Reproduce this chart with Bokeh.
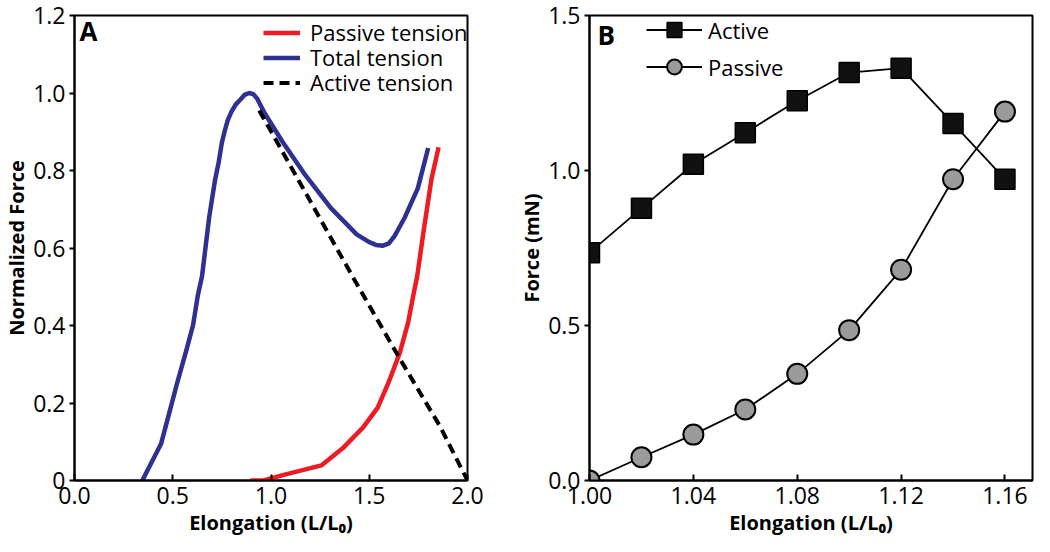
from bokeh.plotting import figure
from bokeh.models import (Legend, LegendItem, Label, FixedTicker, Range1d,
                          PrintfTickFormatter)
from bokeh.layouts import row
from bokeh.embed import file_html
from bokeh.resources import INLINE

# ---------------- Data: panel A ----------------
total_x = [0.345, 0.44, 0.48, 0.52, 0.567, 0.603, 0.627, 0.649, 0.685, 0.715, 0.734,
           0.75, 0.766, 0.78, 0.799, 0.82, 0.848, 0.865, 0.889, 0.91, 0.93, 0.95,
           0.971, 1.06, 1.175, 1.305, 1.436, 1.50, 1.534, 1.57, 1.60, 1.63, 1.68,
           1.747, 1.80]
total_y = [0.0, 0.094, 0.17, 0.247, 0.332, 0.40, 0.476, 0.527, 0.678, 0.775, 0.822,
           0.872, 0.905, 0.93, 0.952, 0.97, 0.985, 0.995, 1.0, 0.997, 0.985, 0.965,
           0.945, 0.873, 0.788, 0.703, 0.635, 0.615, 0.608, 0.606, 0.612, 0.632,
           0.678, 0.754, 0.858]
passive_x = [0.894, 0.962, 1.06, 1.256, 1.371, 1.469, 1.543, 1.60, 1.657, 1.698, 1.73,
             1.744, 1.779, 1.817, 1.853]
passive_y = [0.0, 0.0, 0.014, 0.039, 0.086, 0.137, 0.188, 0.255, 0.332, 0.408, 0.493,
             0.527, 0.652, 0.779, 0.86]
active_x = [0.94, 1.14, 1.42, 1.65, 1.86, 2.0]
active_y = [0.955, 0.775, 0.522, 0.319, 0.14, 0.0]

# ---------------- Data: panel B ----------------
strain = [1.00, 1.02, 1.04, 1.06, 1.08, 1.10, 1.12, 1.14, 1.16]
active_force = [0.735, 0.878, 1.02, 1.122, 1.225, 1.316, 1.33, 1.152, 0.972]
passive_force = [0.0, 0.075, 0.148, 0.229, 0.344, 0.485, 0.68, 0.972, 1.19]

a_xticks = [0.0, 0.5, 1.0, 1.5, 2.0]
a_yticks = [0.0, 0.2, 0.4, 0.6, 0.8, 1.0, 1.2]
b_xticks = [1.00, 1.04, 1.08, 1.12, 1.16]
b_yticks = [0.0, 0.5, 1.0, 1.5]

legend_a_labels = ["Passive tension", "Total tension", "Active tension"]
legend_b_labels = ["Active", "Passive"]

FONT = "Open Sans"
RED = "#ED1C24"
BLUE = "#2E3192"
GREY = "#9B9B9B"
H = 544


def style(p, xticks, yticks, xfmt, yfmt):
    p.xgrid.visible = False
    p.ygrid.visible = False
    p.outline_line_color = "black"
    p.outline_line_width = 2
    p.background_fill_color = "white"
    p.border_fill_color = "white"
    for ax in (p.xaxis[0], p.yaxis[0]):
        ax.axis_line_width = 2
        ax.axis_line_color = "black"
        ax.major_tick_line_width = 2
        ax.minor_tick_line_color = None
        ax.major_label_text_font = FONT
        ax.major_label_text_font_size = "23px"
        ax.major_label_text_color = "black"
        ax.axis_label_text_font = FONT
        ax.axis_label_text_font_style = "bold"
        ax.axis_label_text_font_size = "20px"
        ax.axis_label_text_color = "black"
    p.xaxis[0].ticker = FixedTicker(ticks=xticks)
    p.yaxis[0].ticker = FixedTicker(ticks=yticks)
    p.xaxis[0].formatter = PrintfTickFormatter(format=xfmt)
    p.yaxis[0].formatter = PrintfTickFormatter(format=yfmt)
    p.xaxis[0].major_tick_in = 6
    p.xaxis[0].major_tick_out = 0
    p.yaxis[0].major_tick_in = 0
    p.yaxis[0].major_tick_out = 5
    p.xaxis[0].major_label_standoff = 6
    p.yaxis[0].major_label_standoff = 4
    p.xaxis[0].axis_label_standoff = 2
    p.yaxis[0].axis_label_standoff = 0


def one_legend(label, renderers, x, y, gw, gh, standoff):
    return Legend(items=[LegendItem(label=label, renderers=renderers)],
                  location=(x, y), orientation="vertical",
                  background_fill_alpha=0, border_line_color=None,
                  padding=0, margin=0, spacing=0,
                  glyph_width=gw, glyph_height=gh, label_height=gh,
                  label_standoff=standoff,
                  label_text_font=FONT, label_text_font_size="22px",
                  label_text_color="black")


# ---------------- Panel A ----------------
pA = figure(width=515, height=H, output_backend="svg", toolbar_location=None,
            x_range=Range1d(0, 2.0), y_range=Range1d(0, 1.2),
            min_border_left=59, min_border_right=48, min_border_top=15,
            min_border_bottom=64,
            x_axis_label="Elongation (L/L₀)", y_axis_label="Normalized Force")
style(pA, a_xticks, a_yticks, "%.1f", "%.1f")
pA.yaxis[0].major_label_overrides = {0: "0"}

r_total = pA.line(total_x, total_y, line_color=BLUE, line_width=4.5, line_join="round")
r_passive = pA.line(passive_x, passive_y, line_color=RED, line_width=4.5, line_join="round")
r_active = pA.line(active_x, active_y, line_color="black", line_width=4,
                   line_dash="10 6")

for i, (lab, r) in enumerate(zip(legend_a_labels, [r_passive, r_total, r_active])):
    pA.add_layout(one_legend(lab, [r], 189, 433 - 25 * i, 37, 25, 10))

pA.add_layout(Label(x=5, y=450, x_units="screen", y_units="screen", text="A",
                    text_font=FONT, text_font_style="bold", text_font_size="26px",
                    text_baseline="middle", text_align="left", text_color="black"))

# ---------------- Panel B ----------------
pB = figure(width=519, height=H, output_backend="svg", toolbar_location=None,
            x_range=Range1d(1.0, 1.1706), y_range=Range1d(0, 1.5),
            min_border_left=67, min_border_right=2, min_border_top=15,
            min_border_bottom=64,
            x_axis_label="Elongation (L/L₀)", y_axis_label="Force (mN)")
style(pB, b_xticks, b_yticks, "%.2f", "%.1f")

la = pB.line(strain, active_force, line_color="black", line_width=1.8)
sa = pB.scatter(strain, active_force, marker="square", size=20, fill_color="#111111",
                line_color="black", line_width=1.5)
lp = pB.line(strain, passive_force, line_color="black", line_width=1.8)
sp = pB.scatter(strain, passive_force, marker="circle", size=20, fill_color=GREY,
                line_color="black", line_width=2)

legB = Legend(items=[LegendItem(label=legend_b_labels[0], renderers=[la, sa]),
                     LegendItem(label=legend_b_labels[1], renderers=[lp, sp])],
              location=(57, 395), orientation="vertical",
              background_fill_alpha=0, border_line_color=None,
              padding=0, margin=0, spacing=0,
              glyph_width=56, glyph_height=37, label_height=37,
              label_standoff=6,
              label_text_font=FONT, label_text_font_size="22px",
              label_text_color="black")
pB.add_layout(legB)

pB.add_layout(Label(x=8, y=446, x_units="screen", y_units="screen", text="B",
                    text_font=FONT, text_font_style="bold", text_font_size="26px",
                    text_baseline="middle", text_align="left", text_color="black"))

layout = row(pA, pB)
open("out.html", "w").write(file_html(layout, INLINE))
